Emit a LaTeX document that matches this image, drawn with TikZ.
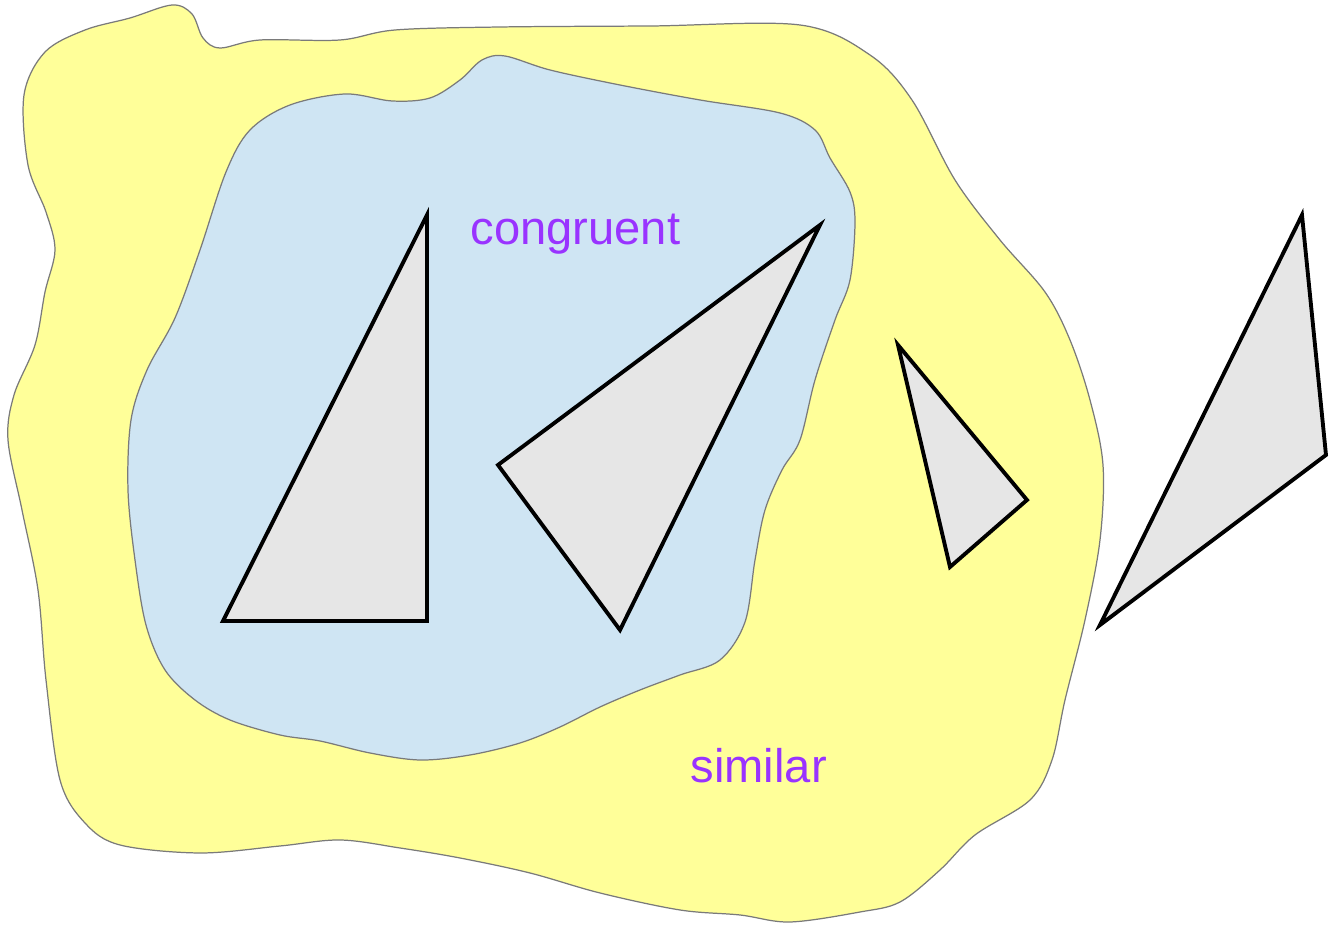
\documentclass[tikz,border=0pt]{standalone}
\usepackage{fontspec}
\setmainfont{Liberation Sans}
\usepackage{tikz}
\definecolor{SimYellow}{HTML}{FFFF99}
\definecolor{CongBlue}{HTML}{CFE5F3}
\definecolor{TriGrey}{HTML}{E6E6E6}
\definecolor{LabelPurple}{HTML}{9933FF}
\definecolor{Edge}{HTML}{7A7A7A}

\begin{document}
\begin{tikzpicture}[
  x=0.01cm,y=-0.01cm,
  blob/.style={draw=Edge,line width=0.35pt},
  tri/.style={draw=black,fill=TriGrey,line width=1.1pt,line join=miter},
  setlabel/.style={text=LabelPurple,font=\fontsize{13.4}{16}\selectfont,inner sep=0pt,anchor=base west}
]
\useasboundingbox (0,0) rectangle (1329,925);
% similar region
\draw[blob,fill=SimYellow] plot[smooth cycle,tension=0.55] coordinates {
  (24,95) (45,52) (85,30) (130,18) (172,5) (192,14) (203,38) (220,48)
  (260,40) (340,40) (395,30) (500,27) (650,26) (800,25) (870,55) (912,100)
  (955,180) (1000,240) (1045,292) (1070,340) (1090,400) (1103,465) (1100,540)
  (1085,620) (1065,700) (1052,760) (1030,800) (975,835) (940,870) (900,902)
  (860,912) (790,922) (740,915) (680,910) (600,893) (530,873) (460,858)
  (400,848) (340,840) (280,846) (200,853) (120,845) (85,823) (60,780)
  (46,680) (38,590) (22,510) (8,440) (14,395) (35,345) (45,292)
  (55,250) (46,212) (28,165)};
% congruent region
\draw[blob,fill=CongBlue] plot[smooth cycle,tension=0.55] coordinates {
  (392,101) (430,98) (460,80) (482,60) (505,56) (550,70) (620,85) (700,100)
  (780,113) (815,130) (830,158) (850,192) (855,222) (850,280) (835,320)
  (815,380) (800,440) (782,470) (765,510) (755,560) (745,622) (720,660)
  (680,675) (640,690) (600,707) (560,727) (520,743) (470,755) (420,760)
  (370,753) (320,741) (280,735) (230,720) (195,700) (165,670) (146,625)
  (135,560) (128,490) (131,420) (147,370) (175,318) (200,250)
  (226,172) (250,130) (290,105) (345,94)};
% triangles
\draw[tri] (427,215) -- (223,621) -- (427,621) -- cycle;
\draw[tri] (820,225) -- (498,465) -- (620,630) -- cycle;
\draw[tri] (898,345) -- (1027,500) -- (950,567) -- cycle;
\draw[tri] (1302,215) -- (1100,625) -- (1326,455) -- cycle;
% labels
\node[setlabel] (congruent) at (470,245) {congruent};
\node[setlabel] (similar) at (690,783) {similar};
\end{tikzpicture}
\end{document}
